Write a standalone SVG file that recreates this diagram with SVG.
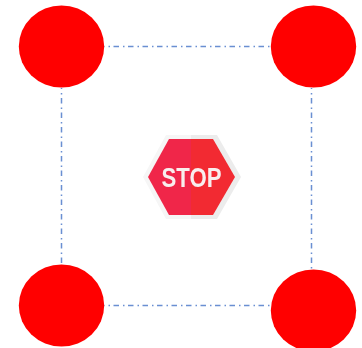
<svg xmlns="http://www.w3.org/2000/svg" width="362" height="348" viewBox="0 0 362 348">
<style>
.c{fill:none;stroke:#6a8fd2;stroke-width:1.5;stroke-dasharray:5.5 4 1.5 3.500}
.h{stroke-dashoffset:5}
.v{stroke-dashoffset:4.500}
.n{fill:#ff0000}
.t{font-family:"Liberation Sans",Arial,sans-serif;font-size:27px;font-weight:700;fill:#f8eeee}
</style>
<defs>
<filter id="b" x="-10%" y="-10%" width="120%" height="120%"><feGaussianBlur stdDeviation="0.6"/></filter>
</defs>
<rect width="362" height="348" fill="#ffffff"/>
<g id="connectors">
<path class="c h" d="M104 46.500H271"/>
<path class="c v" d="M61.500 88V264"/>
<path class="c v" d="M311.500 88V270"/>
<path class="c h" d="M104 305.500H271"/>
</g>
<g id="node-top-left"><ellipse class="n" cx="61.500" cy="46.500" rx="42.700" ry="41"/></g>
<g id="node-top-right"><ellipse class="n" cx="313.500" cy="46.500" rx="42.700" ry="41"/></g>
<g id="node-bottom-left"><ellipse class="n" cx="61.500" cy="305.500" rx="42.700" ry="41"/></g>
<g id="node-bottom-right"><ellipse class="n" cx="313.500" cy="310.500" rx="42.700" ry="41"/></g>
<g id="node-stop" filter="url(#b)">
<polygon points="143,177 166,135 191,135 191,219 166,219" fill="#f6f6f6"/>
<polygon points="191,135 217,135 241,177 217,219 191,219" fill="#ececec"/>
<polygon points="148,177 169,139 191,139 191,215 169,215" fill="#f0284a"/>
<polygon points="191,139 213,139 235,177 213,215 191,215" fill="#f22a30"/>
<text class="t" x="161.500" y="187" textLength="60" lengthAdjust="spacingAndGlyphs">STOP</text>
</g>
</svg>
